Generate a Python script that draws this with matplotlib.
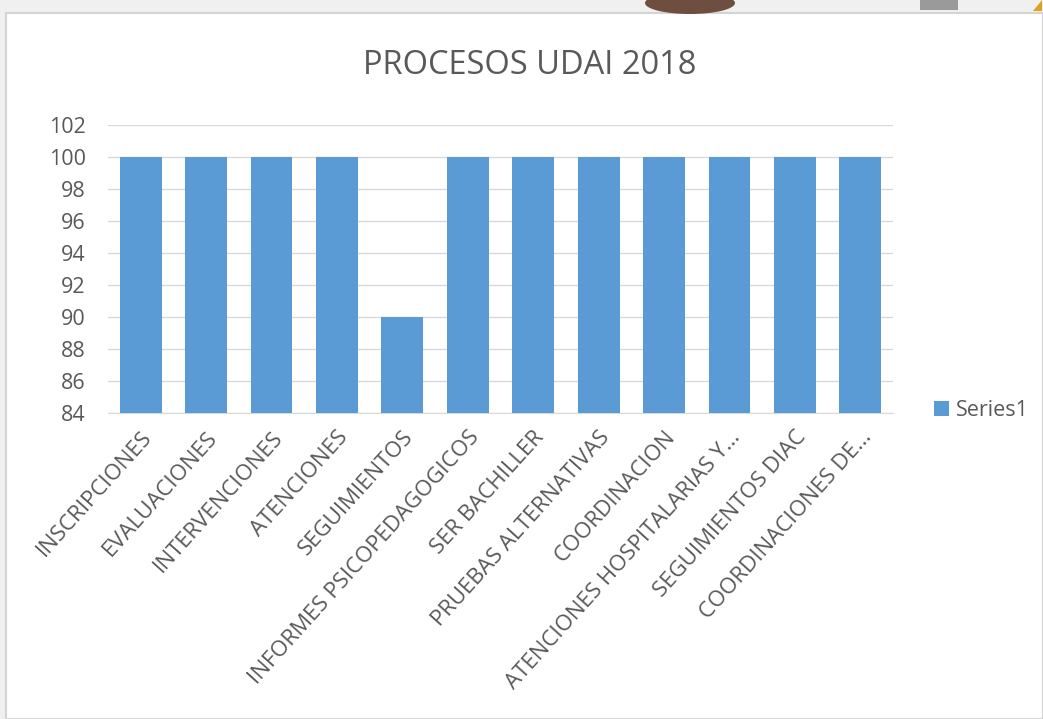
import matplotlib.pyplot as plt
from matplotlib.patches import Rectangle, Ellipse, Polygon

plt.rcParams['font.family'] = ['Open Sans', 'DejaVu Sans']

categories = ['INSCRIPCIONES', 'EVALUACIONES', 'INTERVENCIONES', 'ATENCIONES',
              'SEGUIMIENTOS', 'INFORMES PSICOPEDAGOGICOS', 'SER BACHILLER',
              'PRUEBAS ALTERNATIVAS', 'COORDINACION', 'ATENCIONES HOSPITALARIAS Y...',
              'SEGUIMIENTOS DIAC', 'COORDINACIONES DE...']
values = [100, 100, 100, 100, 90, 100, 100, 100, 100, 100, 100, 100]
yticks = [84, 86, 88, 90, 92, 94, 96, 98, 100, 102]

W, H = 1043, 719
fig = plt.figure(figsize=(W / 100, H / 100), dpi=100)
fig.patch.set_facecolor('#f0f0f0')

# screenshot frame
fig.patches.append(Rectangle((6 / W, 0), 1 - 6 / W, 1 - 13 / H, transform=fig.transFigure,
                             facecolor='white', edgecolor='#d4d4d4', linewidth=1.5, zorder=-3))
fig.patches.append(Ellipse((690 / W, 1 - 3 / H), 90 / W, 22 / H, transform=fig.transFigure,
                           facecolor='#6e4e3e', edgecolor='none', zorder=-2))
fig.patches.append(Rectangle((920 / W, 1 - 10 / H), 38 / W, 10 / H, transform=fig.transFigure,
                             facecolor='#9a9a9a', edgecolor='none', zorder=-2))
fig.patches.append(Polygon([(1033 / W, 1 - 11 / H), (1 - 0.001, 1 - 11 / H), (1 - 0.001, 1)],
                           closed=True, transform=fig.transFigure,
                           facecolor='#e0a020', edgecolor='none', zorder=-2))

ax = fig.add_axes([108 / W, 306 / H, 785 / W, 288 / H])
ax.patch.set_alpha(0)
x = range(len(categories))
ax.bar(x, values, width=0.64, color='#5b9bd5', zorder=3, label='Series1')

ax.set_ylim(84, 102)
ax.set_xlim(-0.5, len(categories) - 0.5)
ax.set_yticks(yticks)
ax.set_xticks(list(x))
ax.set_xticklabels(categories, rotation=48, ha='right', rotation_mode='anchor',
                   fontsize=16, color='#595959')
ax.tick_params(axis='y', labelsize=15.5, labelcolor='#595959', length=0, pad=16)
ax.tick_params(axis='x', length=0, pad=10)
ax.grid(axis='y', color='#d9d9d9', linewidth=1, zorder=0)
for s in ['top', 'right', 'left']:
    ax.spines[s].set_visible(False)
ax.spines['bottom'].set_color('#d9d9d9')

fig.text(530 / W, 1 - 65 / H, 'PROCESOS UDAI 2018', ha='center', va='center',
         fontsize=23.5, color='#595959')

ax.legend(loc='center left', bbox_to_anchor=(1.028, 0.01), frameon=False,
          fontsize=15.5, labelcolor='#595959', handlelength=0.7, handleheight=0.7,
          handletextpad=0.3)

fig.savefig('out.png', dpi=100, facecolor=fig.get_facecolor())
